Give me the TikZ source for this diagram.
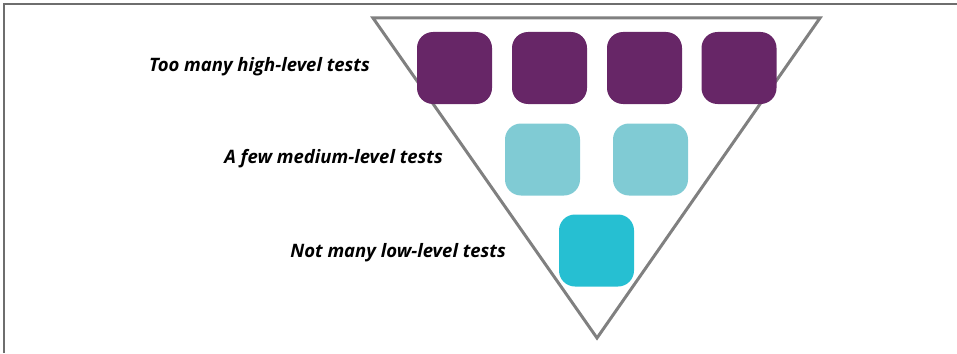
\documentclass[tikz,border=0pt]{standalone}
\usepackage{fontspec}
\setmainfont{Open Sans}
\usepackage{tikz}
\usetikzlibrary{positioning}
\definecolor{plum}{HTML}{672667}
\definecolor{paleteal}{HTML}{80CBD4}
\definecolor{brightteal}{HTML}{26BFD2}
\definecolor{funnelgray}{HTML}{808080}
\definecolor{framegray}{HTML}{6E6E6E}

\begin{document}
\begin{tikzpicture}[x=1pt, y=-1pt,
        testbox/.style={rectangle, minimum width=75pt, minimum height=72pt,
                        rounded corners=16pt, inner sep=0pt},
        high/.style={testbox, fill=plum},
        medium/.style={testbox, fill=paleteal},
        low/.style={testbox, fill=brightteal},
        label/.style={anchor=east, font=\fontsize{18.5}{22}\selectfont\bfseries\itshape, inner sep=0pt}
    ]
    \useasboundingbox (0,0) rectangle (957,353);
    \draw[framegray, line width=1.5pt] (4,353) -- (4,4) -- (957,4);

    \coordinate (topleft) at (373,18);
    \coordinate (topright) at (820,18);
    \coordinate (tip) at (597,338);
    \draw[funnelgray, line width=3pt] (topleft) -- (topright) -- (tip) -- cycle;

    \node[high] (high1) at (454.5,68) {};
    \node[high] (high2) at (549.5,68) {};
    \node[high] (high3) at (644.5,68) {};
    \node[high] (high4) at (739,68) {};

    \node[medium] (medium1) at (542.5,159.5) {};
    \node[medium] (medium2) at (650.5,159.5) {};

    \node[low] (low1) at (596.5,250.5) {};

    \node[label] (highlabel) at (370,67) {Too many high-level tests};
    \node[label] (mediumlabel) at (443,159) {A few medium-level tests};
    \node[label] (lowlabel) at (506,253) {Not many low-level tests};
\end{tikzpicture}
\end{document}
